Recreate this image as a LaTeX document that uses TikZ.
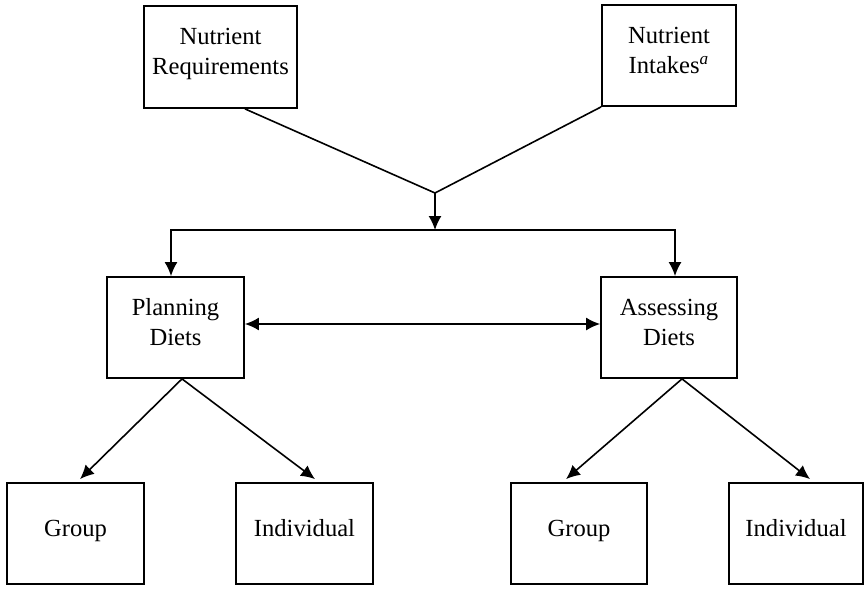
\documentclass[tikz,border=0pt]{standalone}
\usepackage{fontspec}
\setmainfont{Liberation Serif}
\usetikzlibrary{arrows.meta}
\begin{document}
\begin{tikzpicture}[
		x=0.5pt, y=-0.5pt,
		box/.style={draw, line width=0.9pt, align=center, inner sep=0pt,
			minimum height=50.5pt, text depth=5.5pt, font=\fontsize{12.3}{15}\selectfont},
		link/.style={line width=0.8pt},
		tip/.style={link, -{Latex[length=7pt,width=6.5pt]}}
	]
	\useasboundingbox (0,0) rectangle (865,588);
	% inputs
	\node[box, minimum width=76.5pt, minimum height=51pt] (req) at (220.5,57) {Nutrient\\Requirements};
	\node[box, minimum width=67pt] (intake) at (669,55.5) {Nutrient\\Intakes\textsuperscript{\textit{a}}};
	% uses
	\node[box, minimum width=68.5pt] (plan) at (175.5,327.5) {Planning\\Diets};
	\node[box, minimum width=68pt] (assess) at (669,327.5) {Assessing\\Diets};
	% levels
	\node[box, minimum width=68.5pt] (grpA) at (75.5,533.5) {Group};
	\node[box, minimum width=68.5pt] (indA) at (304.5,533.5) {Individual};
	\node[box, minimum width=68pt] (grpB) at (579,533.5) {Group};
	\node[box, minimum width=67pt] (indB) at (796,533.5) {Individual};

	\coordinate (join) at (435,193);
	\coordinate (split) at (435,230);
	\draw[link] ([xshift=12.25pt]req.south) -- (join) -- (intake.south west);
	\draw[tip] (join) -- (split);
	\draw[tip] (split) -| ([xshift=-2.25pt]plan.north);
	\draw[tip] (split) -| ([xshift=3pt]assess.north);
	\draw[link, {Latex[length=7pt,width=6.5pt]}-{Latex[length=7pt,width=6.5pt]}] ([yshift=1.75pt]plan.east) -- ([yshift=1.75pt]assess.west);

	\draw[tip] ([xshift=3.25pt]plan.south) -- ([xshift=2.25pt,yshift=1.5pt]grpA.north);
	\draw[tip] ([xshift=3.25pt]plan.south) -- ([xshift=5.25pt,yshift=1.5pt]indA.north);
	\draw[tip] ([xshift=6.5pt]assess.south) -- ([xshift=-6.5pt,yshift=1.5pt]grpB.north);
	\draw[tip] ([xshift=6.5pt]assess.south) -- ([xshift=7pt,yshift=1.5pt]indB.north);
\end{tikzpicture}
\end{document}
